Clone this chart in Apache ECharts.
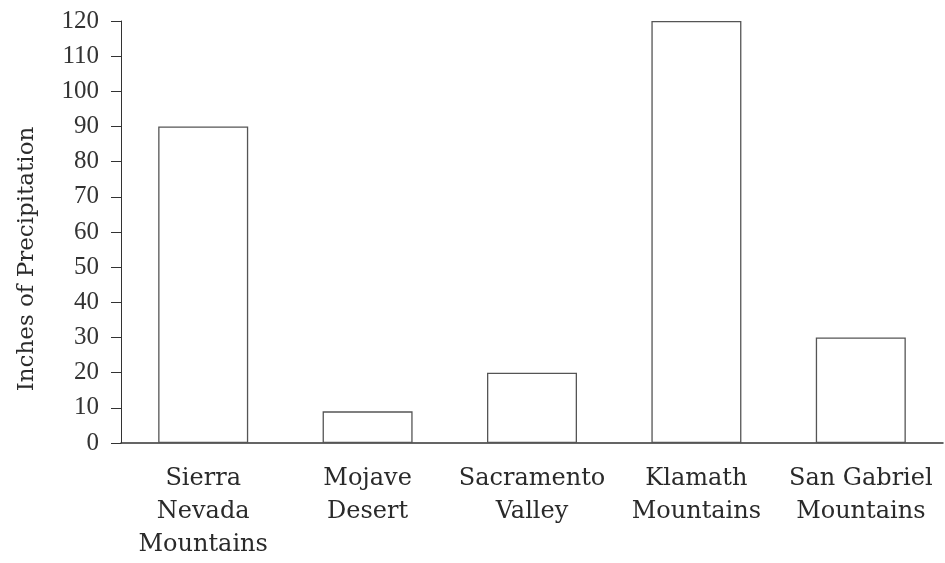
<!DOCTYPE html>
<html>
<head>
<meta charset="utf-8">
<script src="https://cdn.jsdelivr.net/npm/echarts@6/dist/echarts.min.js"></script>
<style>
html,body{margin:0;padding:0;background:#fff;}
#chart{width:945px;height:563px;}
</style>
</head>
<body>
<div id="chart"></div>
<script>
var categories = ['Sierra\nNevada\nMountains', 'Mojave\nDesert', 'Sacramento\nValley', 'Klamath\nMountains', 'San Gabriel\nMountains'];
var precipitation = [90, 9, 20, 120, 30];
var yTicks = {min: 0, max: 120, interval: 10};
var yName = 'Inches of Precipitation';

var chart = echarts.init(document.getElementById('chart'), null, {renderer: 'canvas'});
chart.setOption({
  animation: false,
  backgroundColor: '#ffffff',
  grid: {left: 121, top: 21, right: 2, bottom: 120, containLabel: false},
  xAxis: {
    type: 'category',
    data: categories,
    axisLine: {lineStyle: {color: '#333', width: 1.5}},
    axisTick: {show: false},
    axisLabel: {
      interval: 0,
      margin: 19,
      color: '#2a2a2a',
      fontFamily: 'DejaVu Serif',
      fontSize: 24,
      lineHeight: 33
    }
  },
  yAxis: {
    type: 'value',
    min: yTicks.min,
    max: yTicks.max,
    interval: yTicks.interval,
    name: yName,
    nameLocation: 'middle',
    nameGap: 82,
    nameTextStyle: {color: '#2a2a2a', fontFamily: 'DejaVu Serif', fontSize: 23, padding: [0, 54, 0, 0]},
    axisLine: {show: true, lineStyle: {color: '#333', width: 1}},
    axisTick: {show: true, length: 10, lineStyle: {color: '#333', width: 1}},
    axisLabel: {margin: 22, color: '#333', fontFamily: 'Liberation Serif', fontSize: 25},
    splitLine: {show: false}
  },
  series: [{
    type: 'bar',
    data: precipitation,
    barWidth: 90,
    itemStyle: {color: '#ffffff', borderColor: '#555', borderWidth: 1.3}
  }]
});
</script>
</body>
</html>
